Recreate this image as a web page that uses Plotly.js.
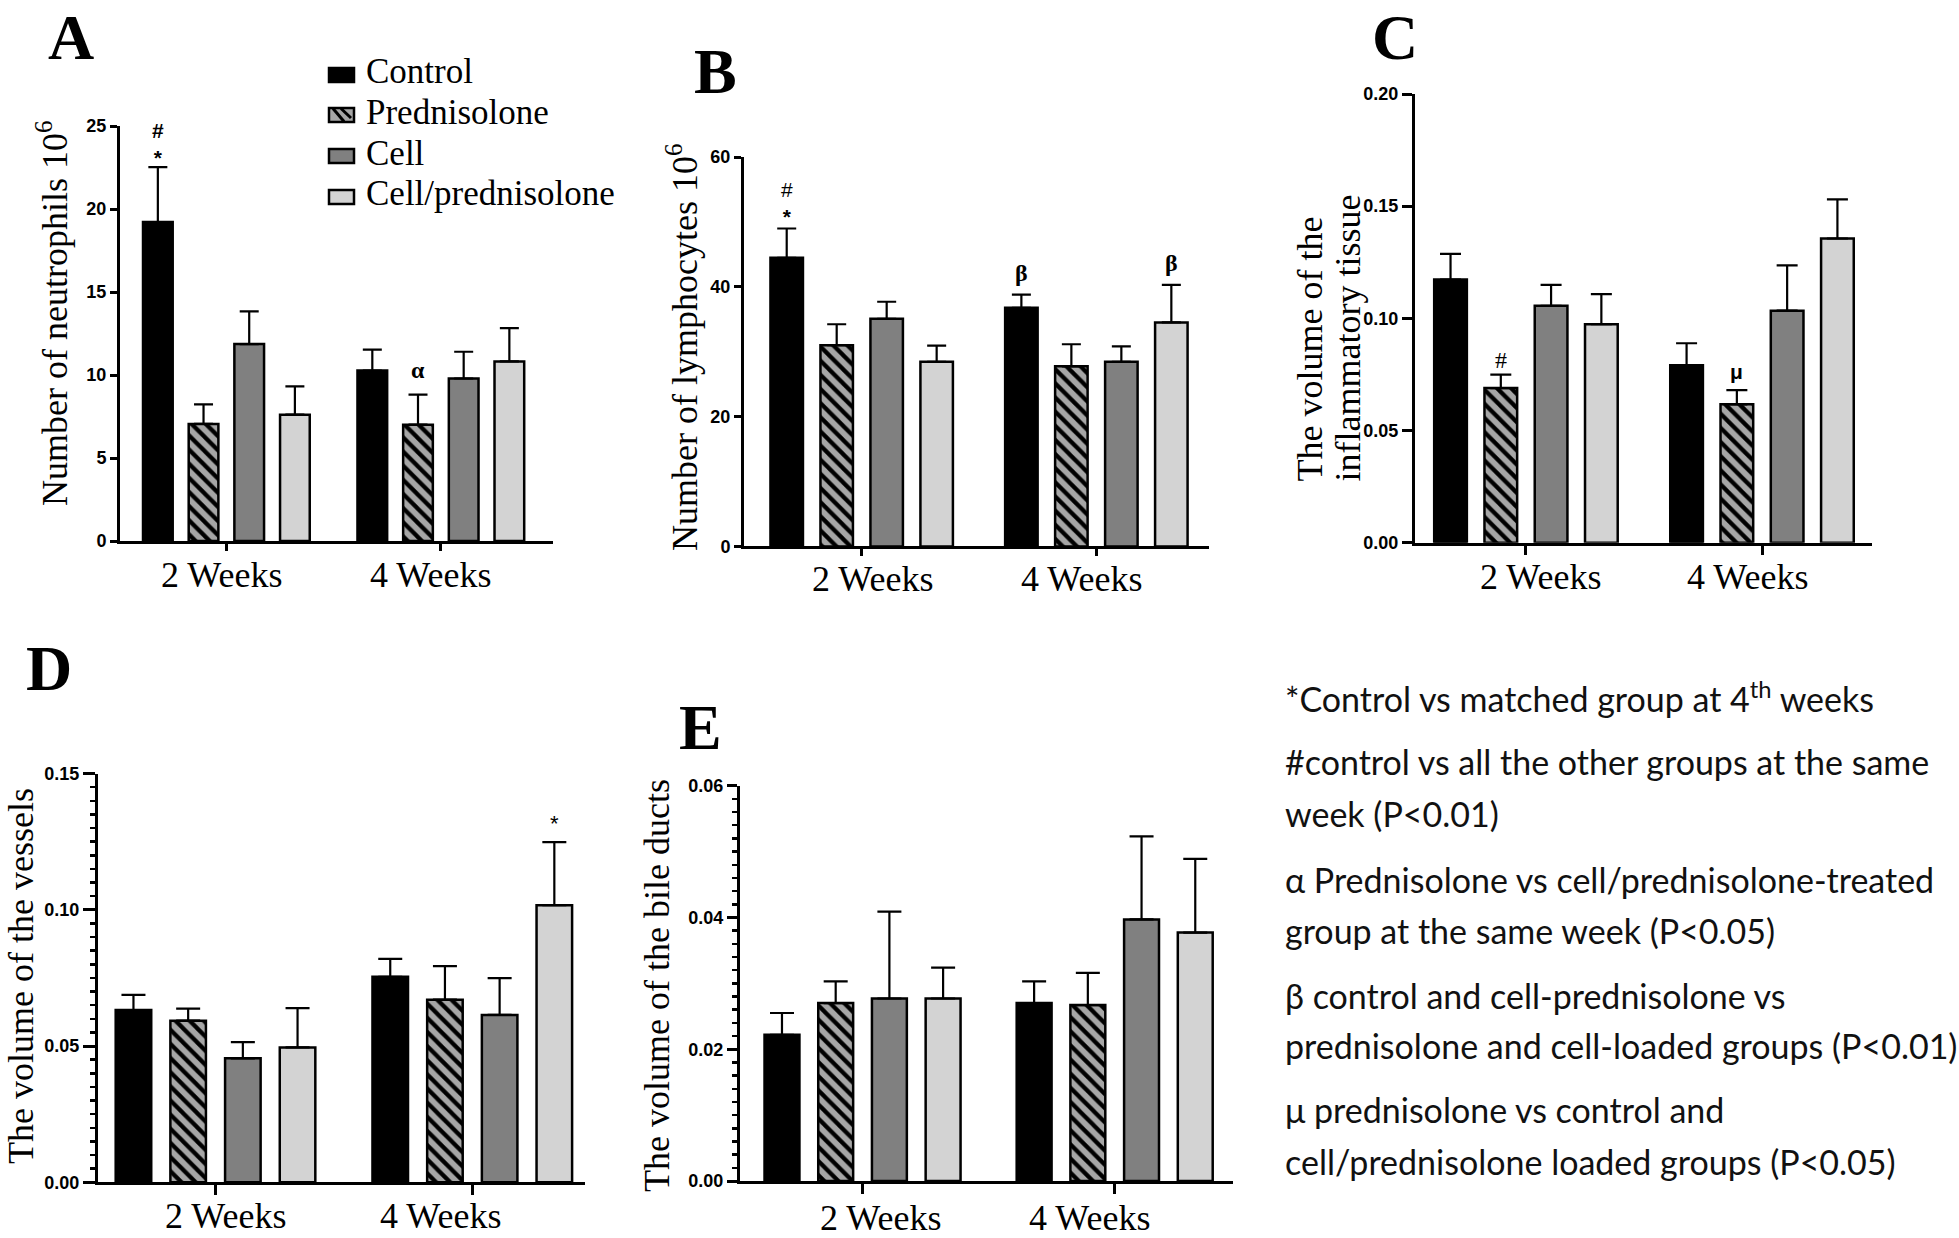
<!DOCTYPE html>
<html><head><meta charset="utf-8">
<script src="https://cdn.plot.ly/plotly-3.0.1.min.js"></script>
<style>html,body{margin:0;padding:0;background:#fff}#chart{width:1959px;height:1238px}</style>
</head><body><div id="chart"></div>
<script>
const W = 1959, H = 1238;
const weeks = ['2 Weeks', '4 Weeks'];
const groupNames = ['Control', 'Prednisolone', 'Cell', 'Cell/prednisolone'];

// A: neutrophils (x10^6)
const neutroControl = [19.21, 10.27], neutroControlSem = [3.31, 1.26];
const neutroPred    = [7.05, 7.01],   neutroPredSem    = [1.18, 1.81];
const neutroCell    = [11.86, 9.79],  neutroCellSem    = [1.97, 1.61];
const neutroCellPred= [7.61, 10.82],  neutroCellPredSem= [1.70, 2.00];
// B: lymphocytes (x10^6)
const lymphoControl = [44.47, 36.76], lymphoControlSem = [4.51, 2.04];
const lymphoPred    = [30.99, 27.74], lymphoPredSem    = [3.24, 3.41];
const lymphoCell    = [35.06, 28.45], lymphoCellSem    = [2.64, 2.37];
const lymphoCellPred= [28.45, 34.51], lymphoCellPredSem= [2.48, 5.78];
// C: inflammatory tissue volume
const inflamControl = [0.1173, 0.0791], inflamControlSem = [0.0114, 0.0098];
const inflamPred    = [0.0689, 0.0617], inflamPredSem    = [0.0060, 0.0063];
const inflamCell    = [0.1056, 0.1034], inflamCellSem    = [0.0093, 0.0202];
const inflamCellPred= [0.0974, 0.1356], inflamCellPredSem= [0.0134, 0.0174];
// D: vessels volume
const vesselControl = [0.0632, 0.0754], vesselControlSem = [0.0056, 0.0066];
const vesselPred    = [0.0593, 0.0670], vesselPredSem    = [0.0044, 0.0123];
const vesselCell    = [0.0455, 0.0614], vesselCellSem    = [0.0059, 0.0135];
const vesselCellPred= [0.0495, 0.1017], vesselCellPredSem= [0.0144, 0.0231];
// E: bile ducts volume
const bileControl = [0.0222, 0.0270], bileControlSem = [0.0033, 0.0033];
const bilePred    = [0.0270, 0.0267], bilePredSem    = [0.0033, 0.0049];
const bileCell    = [0.0277, 0.0397], bileCellSem    = [0.0132, 0.0126];
const bileCellPred= [0.0277, 0.0377], bileCellPredSem= [0.0047, 0.0112];

const noteLines = [
  '*Control vs matched group at 4<sup>th</sup> weeks',
  '#control vs all the other groups at the same',
  'week (P&lt;0.01)',
  'α Prednisolone vs cell/prednisolone-treated',
  'group at the same week (P&lt;0.05)',
  'β control and cell-prednisolone vs',
  'prednisolone and cell-loaded groups (P&lt;0.01)',
  'μ prednisolone vs control and',
  'cell/prednisolone loaded groups (P&lt;0.05)'
];

const GRAY_P = '#a6a6a6', GRAY_C = '#808080', GRAY_L = '#d3d3d3';
const styles = [
  {color: '#000000'},
  {color: GRAY_P, pattern: {shape: '\\', bgcolor: GRAY_P, fgcolor: '#000000', fgopacity: 1, size: 10, solidity: 0.42}},
  {color: GRAY_C},
  {color: GRAY_L}
];
const BARGAP = 0.148;
const SLOT = (1 - BARGAP) / 4;

function panelTraces(means, sems, xa, ya, capW) {
  return means.map((m, i) => ({
    type: 'bar', x: weeks, y: m, name: groupNames[i], xaxis: xa, yaxis: ya,
    showlegend: false, hoverinfo: 'skip',
    marker: Object.assign({line: {color: '#000000', width: 2.5}}, styles[i]),
    error_y: {type: 'data', symmetric: false, array: sems[i], arrayminus: sems[i].map(() => 0),
              color: '#000000', thickness: 2.2, width: capW}
  }));
}

const traces = [].concat(
  panelTraces([neutroControl, neutroPred, neutroCell, neutroCellPred],
              [neutroControlSem, neutroPredSem, neutroCellSem, neutroCellPredSem], 'x', 'y', 9.5),
  panelTraces([lymphoControl, lymphoPred, lymphoCell, lymphoCellPred],
              [lymphoControlSem, lymphoPredSem, lymphoCellSem, lymphoCellPredSem], 'x2', 'y2', 9.5),
  panelTraces([inflamControl, inflamPred, inflamCell, inflamCellPred],
              [inflamControlSem, inflamPredSem, inflamCellSem, inflamCellPredSem], 'x3', 'y3', 10.5),
  panelTraces([vesselControl, vesselPred, vesselCell, vesselCellPred],
              [vesselControlSem, vesselPredSem, vesselCellSem, vesselCellPredSem], 'x4', 'y4', 12),
  panelTraces([bileControl, bilePred, bileCell, bileCellPred],
              [bileControlSem, bilePredSem, bileCellSem, bileCellPredSem], 'x5', 'y5', 12)
);

const tickFont = {family: 'Liberation Sans, Arial, sans-serif', size: 18, color: '#000000', weight: 'bold'};
function xAxis(l, r, r0, r1, anchor, tl) {
  return {domain: [l / W, r / W], range: [r0, r1], type: 'category', anchor: anchor,
    showline: true, linecolor: '#000', linewidth: 3, ticks: 'outside', tickcolor: '#000', tickwidth: 3,
    ticklen: tl, showticklabels: false, showgrid: false, zeroline: false, fixedrange: true};
}
function yAxis(top, bottom, max, dtick, fmt, anchor, tl, minorDtick) {
  const ax = {domain: [1 - bottom / H, 1 - top / H], range: [0, max], tick0: 0, dtick: dtick, tickformat: fmt,
    anchor: anchor, showline: true, linecolor: '#000', linewidth: 3, ticks: 'outside', tickcolor: '#000',
    tickwidth: 3, ticklen: tl, tickfont: tickFont, showgrid: false, zeroline: false, fixedrange: true};
  if (minorDtick) ax.minor = {dtick: minorDtick, ticks: 'outside', ticklen: 5, tickwidth: 2.5, tickcolor: '#000', showgrid: false};
  return ax;
}

const serif = 'Liberation Serif, Times New Roman, serif';
const sans = 'Liberation Sans, Arial, sans-serif';
const ann = [];
function paperText(text, px, py, size, opts) {
  ann.push(Object.assign({text: text, xref: 'paper', yref: 'paper', x: px / W, y: 1 - py / H,
    xanchor: 'center', yanchor: 'middle', showarrow: false,
    font: {family: serif, size: size, color: '#000'}}, opts || {}));
}
// panel letters
const letterFont = {family: serif, size: 64, color: '#000', weight: 'bold'};
paperText('A', 71, 0, 64, {font: letterFont, yanchor: 'top'});
paperText('B', 715, 72, 64, {font: letterFont});
paperText('C', 1395, 0, 64, {font: letterFont, yanchor: 'top'});
paperText('D', 49, 668, 64, {font: letterFont});
paperText('E', 700, 727, 64, {font: letterFont});
// y titles
paperText('Number of neutrophils 10<sup>6</sup>', 52, 313, 36, {textangle: -90});
paperText('Number of lymphocytes 10<sup>6</sup>', 683, 347, 36, {textangle: -90});
paperText('The volume of the', 1309, 484, 36, {textangle: -90, yanchor: 'bottom'});
paperText('inflammatory tissue', 1347, 484, 36, {textangle: -90, yanchor: 'bottom'});
paperText('The volume of the vessels', 21, 976, 36, {textangle: -90});
paperText('The volume of the bile ducts', 657, 986, 36, {textangle: -90});
// x category labels
[[221, 575, 430, 575], [872, 579, 1081, 579], [1540, 577, 1747, 577], [225, 1216, 440, 1216], [880, 1218, 1089, 1218]]
  .forEach(p => { paperText(weeks[0], p[0], p[1], 36); paperText(weeks[1], p[2], p[3], 36); });

// significance marks (data coords)
function mark(t, xa, ya, wk, grp, yv, font) {
  ann.push({text: t, xref: xa, yref: ya, x: wk + (grp - 1.5) * SLOT, y: yv, showarrow: false,
    xanchor: 'center', yanchor: 'middle', font: font});
}
const fSansB = {family: sans, size: 21, color: '#000', weight: 'bold'};
const fSans = {family: sans, size: 21, color: '#000'};
const fSerifB = {family: serif, size: 24, color: '#000', weight: 'bold'};
const fSerif = {family: serif, size: 24, color: '#000'};
mark('#<br>*', 'x', 'y', 0, 0, 23.9, fSansB);
mark('α', 'x', 'y', 1, 1, 10.3, fSerifB);
mark('#<br><b>*</b>', 'x2', 'y2', 0, 0, 52.9, fSans);
mark('β', 'x2', 'y2', 1, 0, 42.1, fSerifB);
mark('β', 'x2', 'y2', 1, 3, 43.7, fSerifB);
mark('#', 'x3', 'y3', 0, 1, 0.0814, fSerif);
mark('μ', 'x3', 'y3', 1, 1, 0.0765, fSansB);
mark('*', 'x4', 'y4', 1, 3, 0.1315, {family: sans, size: 22, color: '#000'});

// legend (panel A)
const legendRows = [75, 115, 156, 197];
const shapes = [];
const swatchFill = ['#000000', GRAY_P, GRAY_C, GRAY_L];
legendRows.forEach((cy, i) => {
  shapes.push({type: 'rect', xref: 'paper', yref: 'paper', x0: 329 / W, x1: 354 / W,
    y0: 1 - (cy + 7) / H, y1: 1 - (cy - 7) / H, fillcolor: swatchFill[i], line: {color: '#000', width: 2.5}});
  paperText(groupNames[i], 364, cy - 3, 35, {xanchor: 'left'});
});
// hatch lines in the Prednisolone swatch
[[333, 108.5, 344, 121.5], [341, 108.5, 351, 118]].forEach(s =>
  shapes.push({type: 'line', xref: 'paper', yref: 'paper', x0: s[0] / W, y0: 1 - s[1] / H,
    x1: s[2] / W, y1: 1 - s[3] / H, line: {color: '#000', width: 3}}));

// notes
const noteY = [697, 761, 813, 879, 930, 995, 1045, 1109, 1161];
noteLines.forEach((t, i) => paperText(t, 1283, noteY[i], 34,
  {xanchor: 'left', font: {family: 'Lato, Open Sans, sans-serif', size: 34, color: '#111'}}));

const layout = {
  width: W, height: H, margin: {l: 0, r: 0, t: 0, b: 0},
  paper_bgcolor: '#ffffff', plot_bgcolor: 'rgba(0,0,0,0)',
  barmode: 'group', bargap: BARGAP, bargroupgap: 0.35, showlegend: false,
  font: {family: serif, color: '#000'},
  xaxis:  xAxis(120, 553, -0.496, 1.523, 'y', 7),
  yaxis:  yAxis(126, 541, 25, 5, 'd', 'x', 7),
  xaxis2: xAxis(744, 1209, -0.5015, 1.48, 'y2', 7),
  yaxis2: yAxis(157, 546.4, 60, 20, 'd', 'x2', 7),
  xaxis3: xAxis(1415, 1872, -0.47, 1.466, 'y3', 9),
  yaxis3: yAxis(94, 542.7, 0.2, 0.05, '.2f', 'x3', 10),
  xaxis4: xAxis(98, 584.5, -0.4576, 1.437, 'y4', 10),
  yaxis4: yAxis(773.5, 1182.3, 0.15, 0.05, '.2f', 'x4', 12, 0.005),
  xaxis5: xAxis(740, 1232.7, -0.486, 1.468, 'y5', 10),
  yaxis5: yAxis(785.7, 1181, 0.06, 0.02, '.2f', 'x5', 10, 0.002),
  annotations: ann, shapes: shapes
};
Plotly.newPlot('chart', traces, layout, {displayModeBar: false, staticPlot: true});
</script></body></html>
